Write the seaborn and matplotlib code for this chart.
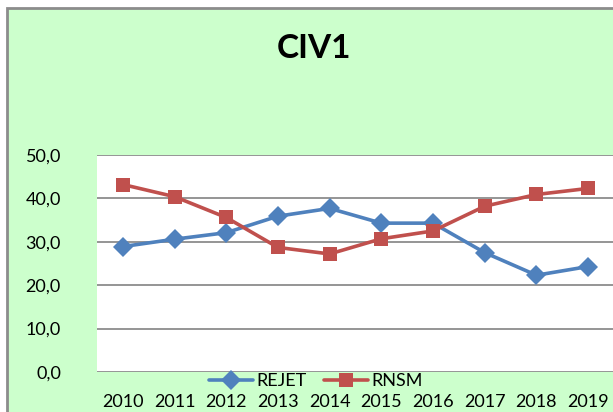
import matplotlib
matplotlib.use("Agg")
import matplotlib.pyplot as plt
import seaborn as sns
import pandas as pd
from matplotlib.patches import Rectangle
from matplotlib.ticker import FuncFormatter

years = [2010, 2011, 2012, 2013, 2014, 2015, 2016, 2017, 2018, 2019]
rejet = [28.9, 30.6, 32.1, 35.9, 37.7, 34.3, 34.3, 27.5, 22.3, 24.3]
rnsm = [43.2, 40.4, 35.6, 28.7, 27.2, 30.7, 32.5, 38.2, 40.9, 42.3]

sns.set_style("white")
plt.rcParams['font.family'] = ['Lato', 'DejaVu Sans']
plt.rcParams['text.color'] = 'black'
plt.rcParams['xtick.color'] = 'black'
plt.rcParams['ytick.color'] = 'black'

df = pd.DataFrame({"year": years * 2,
                   "value": rejet + rnsm,
                   "serie": ["REJET"] * len(years) + ["RNSM"] * len(years)})

fig = plt.figure(figsize=(6.13, 4.12), dpi=100, facecolor="white")
# fond vert du graphique avec bordure grise (coupée en bas et à droite)
fig.patches.append(Rectangle((7 / 613, -0.1), 1.2, 1.1 - 8 / 412, transform=fig.transFigure,
                             facecolor="#CCFFCC", edgecolor="#8C8C8C", linewidth=2,
                             zorder=-5))

ax = fig.add_axes([97 / 613, 1 - 372 / 412, 517 / 613, 217 / 412])
ax.set_facecolor("white")

sns.lineplot(data=df, x="year", y="value", hue="serie", style="serie",
             palette={"REJET": "#4F81BD", "RNSM": "#C0504D"},
             markers={"REJET": "D", "RNSM": "s"}, dashes=False,
             markersize=10, linewidth=2.6, markeredgewidth=0, ax=ax, legend=True)

ax.set_ylim(0, 50)
ax.set_xlim(2009.5, 2019.5)
ax.set_yticks([0, 10, 20, 30, 40, 50])
ax.set_xticks(years)
ax.yaxis.set_major_formatter(FuncFormatter(lambda v, p: f"{v:.1f}".replace(".", ",")))
ax.grid(axis="y", color="#8C8C8C", linewidth=1.3)
for s in ax.spines.values():
    s.set_visible(False)
ax.tick_params(axis="y", labelsize=13, pad=26, length=0)
ax.tick_params(axis="x", labelsize=13, pad=16, length=0)
ax.set_xlabel("")
ax.set_ylabel("")

handles, labels = ax.get_legend_handles_labels()
ax.legend(handles, labels, loc="center", bbox_to_anchor=(316 / 613, 1 - 381 / 412),
          bbox_transform=fig.transFigure, ncol=2, frameon=False, fontsize=13,
          handlelength=2.4, handletextpad=0.2, columnspacing=1.0,
          borderpad=0, borderaxespad=0)

fig.text(314 / 613, 1 - 48 / 412, "CIV1", ha="center", va="center",
         fontsize=24, fontweight="bold")

fig.savefig("out.png", dpi=100, facecolor="white")
